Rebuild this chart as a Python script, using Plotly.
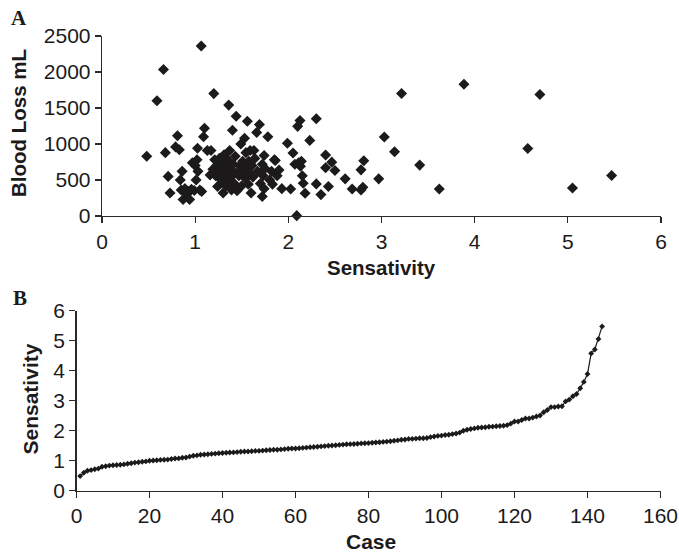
import plotly.graph_objects as go

# Sensitivity values, sorted by case (shared by both panels)
sensitivity = [
    0.48, 0.59, 0.66, 0.68, 0.71, 0.73,
    0.79, 0.81, 0.83, 0.84, 0.85, 0.86, 0.87, 0.89, 0.91, 0.93, 0.94, 0.96, 0.97,
    0.99, 1.00, 1.01, 1.02, 1.025, 1.03, 1.05, 1.065,
    1.07, 1.09, 1.10, 1.13, 1.16, 1.17,
    1.19, 1.20, 1.21, 1.22, 1.23, 1.24, 1.25,
    1.26, 1.265, 1.27, 1.28, 1.29, 1.30, 1.30, 1.31, 1.32, 1.32,
    1.33, 1.34, 1.35, 1.36, 1.36, 1.37, 1.38, 1.39, 1.40, 1.40,
    1.41, 1.42, 1.43, 1.44, 1.45, 1.46, 1.47, 1.48, 1.49, 1.50,
    1.51, 1.52, 1.53, 1.54, 1.545, 1.55, 1.56, 1.57, 1.575, 1.58,
    1.59, 1.60, 1.61, 1.62, 1.63, 1.64, 1.66, 1.67, 1.69, 1.70,
    1.72, 1.72, 1.73, 1.74, 1.74, 1.75, 1.78, 1.80, 1.82, 1.83,
    1.85, 1.86, 1.88, 1.90, 1.93, 1.99, 2.025, 2.05, 2.07, 2.09,
    2.10, 2.11, 2.125, 2.13, 2.14, 2.15, 2.16, 2.18, 2.23, 2.30,
    2.30, 2.35, 2.40, 2.40, 2.43, 2.466, 2.50, 2.61, 2.685, 2.78,
    2.78, 2.80, 2.81, 2.97, 3.03, 3.14, 3.215, 3.41, 3.62, 3.885,
    4.57, 4.70, 5.05, 5.47,
]

# Blood loss (mL) for the same cases
blood_loss = [
    830, 1600, 2035, 880, 550, 320,
    960, 1115, 920, 500, 360, 620, 230, 380, 300, 340, 230, 370, 740,
    355, 700, 500, 780, 940, 620, 360, 2360,
    340, 1100, 1220, 910, 570, 910,
    650, 1700, 780, 560, 700, 410, 620,
    800, 520, 660, 460, 740, 600, 320, 850, 540, 700,
    420, 620, 780, 1540, 500, 910, 650, 360, 560, 1190,
    720, 450, 830, 1385, 350, 620, 560, 700, 1000, 420,
    760, 640, 1080, 520, 880, 680, 1315, 440, 760, 600,
    910, 320, 700, 540, 910, 800, 1160, 620, 1270, 450,
    270, 720, 560, 840, 380, 660, 1100, 500, 620, 440,
    780, 770, 560, 640, 380, 1010, 376, 874, 720, 5,
    1245, 740, 1325, 690, 760, 560, 456, 316, 1050, 1352,
    446, 297, 846, 669, 409, 748, 632, 516, 376, 641,
    360, 400, 767, 516, 1097, 892, 1701, 707, 376, 1831,
    938, 1687, 390, 562,
]

cases = list(range(1, len(sensitivity) + 1))

x_ticks_a = [0, 1, 2, 3, 4, 5, 6]
y_ticks_a = [0, 500, 1000, 1500, 2000, 2500]
x_ticks_b = [0, 20, 40, 60, 80, 100, 120, 140, 160]
y_ticks_b = [0, 1, 2, 3, 4, 5, 6]

W, H = 679, 552
INK = "#1c1a1b"
AX = "#2a2a2a"
SANS = "Liberation Sans, Arial, sans-serif"


def px_x(p):
    return p / W


def px_y(p):
    return 1 - p / H


fig = go.Figure()

fig.add_trace(go.Scatter(
    x=sensitivity, y=blood_loss, mode="markers",
    marker=dict(symbol="diamond", size=8.5, color=INK, line=dict(width=0)),
    xaxis="x", yaxis="y", showlegend=False, cliponaxis=False,
))

fig.add_trace(go.Scatter(
    x=cases, y=sensitivity, mode="lines+markers",
    line=dict(color=INK, width=1.2),
    marker=dict(symbol="diamond", size=4.5, color=INK),
    xaxis="x2", yaxis="y2", showlegend=False,
))

axis_common = dict(
    showgrid=False, zeroline=False, showline=True, linecolor=AX, linewidth=1.3,
    ticks="outside", ticklen=6, tickwidth=1.3, tickcolor=AX,
    tickfont=dict(family=SANS, size=21, color=INK),
    fixedrange=True, automargin=False,
)

fig.update_layout(
    width=W, height=H,
    margin=dict(l=0, r=0, t=0, b=0, autoexpand=False),
    paper_bgcolor="white", plot_bgcolor="white",
    xaxis=dict(domain=[px_x(102), px_x(661)], range=[0, 6], tickvals=x_ticks_a,
               anchor="y", **axis_common),
    yaxis=dict(domain=[px_y(216), px_y(36)], range=[0, 2500], tickvals=y_ticks_a,
               anchor="x", **axis_common),
    xaxis2=dict(domain=[px_x(76.5), px_x(660.5)], range=[0, 160], tickvals=x_ticks_b,
                anchor="y2", **axis_common),
    yaxis2=dict(domain=[px_y(490.5), px_y(310.5)], range=[0, 6], tickvals=y_ticks_b,
                anchor="x2", **axis_common),
)

title_font = dict(family=SANS, size=20.5, color=INK, weight="bold")
letter_font = dict(family="Liberation Serif, Times New Roman, serif", size=21, color=INK, weight="bold")

annotations = [
    dict(text="Sensativity", x=px_x(381), y=px_y(267), font=title_font),
    dict(text="Blood Loss mL", x=px_x(18), y=px_y(123), font=title_font, textangle=-90),
    dict(text="Sensativity", x=px_x(29.5), y=px_y(399), font=dict(title_font, size=21), textangle=-90),
    dict(text="Case", x=px_x(371), y=px_y(541), font=dict(title_font, size=21)),
    dict(text="A", x=px_x(18.5), y=px_y(18), font=letter_font),
    dict(text="B", x=px_x(20), y=px_y(298), font=letter_font),
]
for a in annotations:
    fig.add_annotation(xref="paper", yref="paper", showarrow=False,
                       xanchor="center", yanchor="middle", **a)

fig.write_html(
    "out.html",
    config={"displayModeBar": False, "staticPlot": True},
    post_script="document.body.style.margin='0';document.body.style.overflow='hidden';",
)
